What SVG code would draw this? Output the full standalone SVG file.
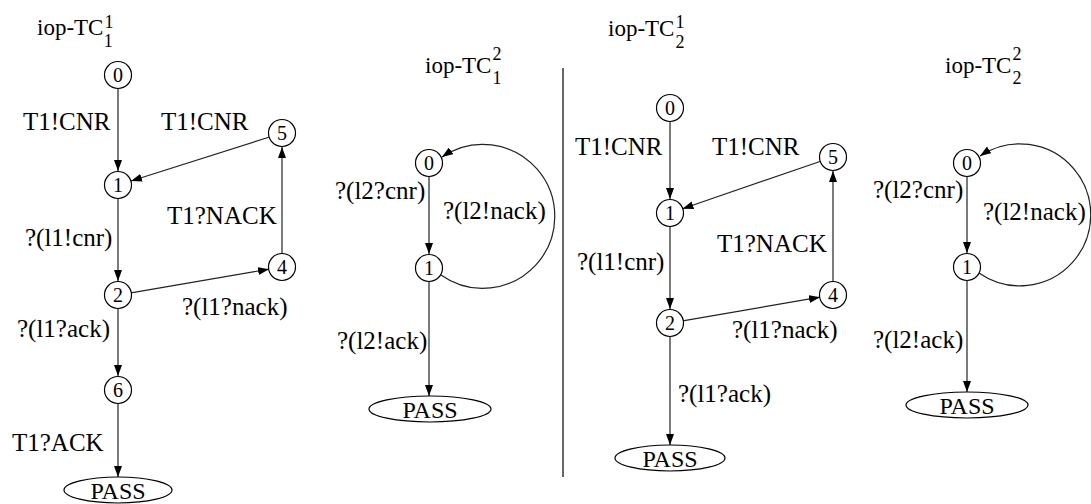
<svg xmlns="http://www.w3.org/2000/svg" width="1091" height="504" viewBox="0 0 1091 504">
<style>
.bg{fill:#fff}
.n{fill:#fff;stroke:#000;stroke-width:1.2}
text{font-family:'Liberation Serif','Times New Roman','DejaVu Serif',serif;fill:#000}
.nt{font-size:20px;text-anchor:middle}
.pt{font-size:24px;text-anchor:middle}
.lb{font-size:25px}
.tt{font-size:23px}
.e{fill:none;stroke:#222;stroke-width:1.2;marker-end:url(#ah)}
</style>
<defs>
<marker id="ah" markerUnits="userSpaceOnUse" markerWidth="11" markerHeight="8" refX="11" refY="4" orient="auto">
<path d="M0,0 L11,4 L0,8 z" fill="#000"/>
</marker>
</defs>
<rect class="bg" x="0" y="0" width="1091" height="504"/>

<g id="titles">
<text class="tt" x="37" y="35">iop-TC<tspan dx="1" dy="-7" font-size="18">1</tspan><tspan dx="-9" dy="19" font-size="18">1</tspan></text>
<text class="tt" x="425" y="73">iop-TC<tspan dx="1" dy="-13" font-size="18">2</tspan><tspan dx="-9" dy="24" font-size="18">1</tspan></text>
<text class="tt" x="608" y="36">iop-TC<tspan dx="1" dy="-8" font-size="18">1</tspan><tspan dx="-9" dy="20" font-size="18">2</tspan></text>
<text class="tt" x="945" y="73">iop-TC<tspan dx="1" dy="-13" font-size="18">2</tspan><tspan dx="-9" dy="24" font-size="18">2</tspan></text>
</g>

<line id="divider" x1="563" y1="68" x2="563" y2="477" stroke="#000" stroke-width="1.2"/>

<g id="connectors">
<path class="e" d="M118 89 L118 171"/>
<path class="e" d="M269.6 137 L131 181"/>
<path class="e" d="M118 199 L118 281"/>
<path class="e" d="M131 292.8 L269 269.2"/>
<path class="e" d="M282 254 L282 147"/>
<path class="e" d="M118 309 L118 376"/>
<path class="e" d="M118 404 L118 477"/>
<path class="e" d="M429 177 L429 254"/>
<path class="e" d="M429 282 L429 396"/>
<path class="e" d="M441 275 A 72 72 0 1 0 442 157"/>
<path class="e" d="M670 122 L670 199"/>
<path class="e" d="M820.7 161.2 L682.5 208.8"/>
<path class="e" d="M670 227 L670 309"/>
<path class="e" d="M682.8 320.8 L820 297.2"/>
<path class="e" d="M833 281 L833 171"/>
<path class="e" d="M670 337 L670 445"/>
<path class="e" d="M967 177 L967 253"/>
<path class="e" d="M967 281 L967 392"/>
<path class="e" d="M979 273 A 71 71 0 1 0 980 156"/>
</g>

<g id="labels">
<text class="lb" x="23" y="130">T1!CNR</text>
<text class="lb" x="161" y="130">T1!CNR</text>
<text class="lb" x="25" y="246">?(l1!cnr)</text>
<text class="lb" x="167" y="224">T1?NACK</text>
<text class="lb" x="182" y="315">?(l1?nack)</text>
<text class="lb" x="17" y="337">?(l1?ack)</text>
<text class="lb" x="12" y="451">T1?ACK</text>

<text class="lb" x="335" y="199">?(l2?cnr)</text>
<text class="lb" x="443" y="219">?(l2!nack)</text>
<text class="lb" x="337" y="349">?(l2!ack)</text>

<text class="lb" x="575" y="155">T1!CNR</text>
<text class="lb" x="712" y="155">T1!CNR</text>
<text class="lb" x="577" y="270">?(l1!cnr)</text>
<text class="lb" x="717" y="252">T1?NACK</text>
<text class="lb" x="732" y="338">?(l1?nack)</text>
<text class="lb" x="678" y="402">?(l1?ack)</text>

<text class="lb" x="873" y="198">?(l2?cnr)</text>
<text class="lb" x="983" y="220">?(l2!nack)</text>
<text class="lb" x="873" y="348">?(l2!ack)</text>
</g>

<g id="d1n0"><circle class="n" cx="118" cy="75" r="13.5"/><text class="nt" x="118" y="82">0</text></g>
<g id="d1n1"><circle class="n" cx="118" cy="185" r="13.5"/><text class="nt" x="118" y="192">1</text></g>
<g id="d1n2"><circle class="n" cx="118" cy="295" r="13.5"/><text class="nt" x="118" y="302">2</text></g>
<g id="d1n4"><circle class="n" cx="282" cy="267" r="13.5"/><text class="nt" x="282" y="274">4</text></g>
<g id="d1n5"><circle class="n" cx="282" cy="133" r="13.5"/><text class="nt" x="282" y="140">5</text></g>
<g id="d1n6"><circle class="n" cx="118" cy="390" r="13.5"/><text class="nt" x="118" y="397">6</text></g>
<g id="d1pass"><ellipse class="n" cx="118" cy="490" rx="54" ry="13"/><text class="pt" x="118" y="499">PASS</text></g>

<g id="d2n0"><circle class="n" cx="429" cy="163" r="13.5"/><text class="nt" x="429" y="170">0</text></g>
<g id="d2n1"><circle class="n" cx="429" cy="268" r="13.5"/><text class="nt" x="429" y="275">1</text></g>
<g id="d2pass"><ellipse class="n" cx="430" cy="409" rx="61" ry="13"/><text class="pt" x="430" y="418">PASS</text></g>

<g id="d3n0"><circle class="n" cx="670" cy="108" r="13.5"/><text class="nt" x="670" y="115">0</text></g>
<g id="d3n1"><circle class="n" cx="670" cy="213" r="13.5"/><text class="nt" x="670" y="220">1</text></g>
<g id="d3n2"><circle class="n" cx="670" cy="323" r="13.5"/><text class="nt" x="670" y="330">2</text></g>
<g id="d3n4"><circle class="n" cx="833" cy="295" r="13.5"/><text class="nt" x="833" y="302">4</text></g>
<g id="d3n5"><circle class="n" cx="833" cy="157" r="13.5"/><text class="nt" x="833" y="164">5</text></g>
<g id="d3pass"><ellipse class="n" cx="670" cy="458" rx="55" ry="13"/><text class="pt" x="670" y="467">PASS</text></g>

<g id="d4n0"><circle class="n" cx="967" cy="163" r="13.5"/><text class="nt" x="967" y="170">0</text></g>
<g id="d4n1"><circle class="n" cx="967" cy="267" r="13.5"/><text class="nt" x="967" y="274">1</text></g>
<g id="d4pass"><ellipse class="n" cx="967" cy="405" rx="61" ry="13"/><text class="pt" x="967" y="414">PASS</text></g>
</svg>
